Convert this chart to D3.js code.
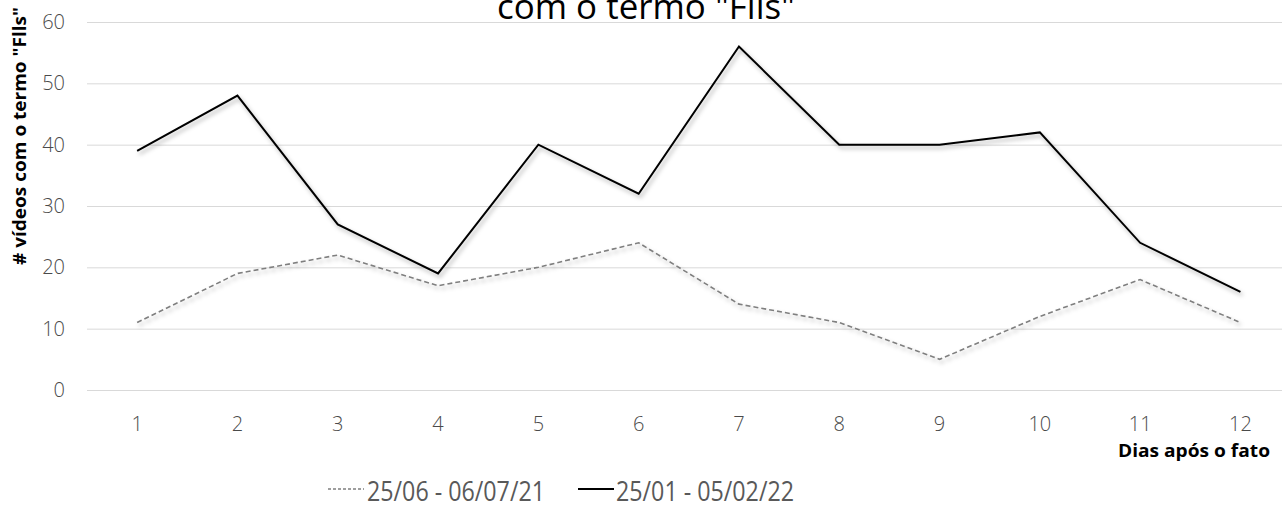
<!DOCTYPE html>
<html>
<head>
<meta charset="utf-8">
<script src="https://cdn.jsdelivr.net/npm/d3@7"></script>
<style>
  html, body { margin: 0; padding: 0; background: #fff; }
  svg { display: block; }
</style>
</head>
<body>
<svg id="chart" width="1282" height="509"></svg>
<script>
// Days after the event
const days = [1, 2, 3, 4, 5, 6, 7, 8, 9, 10, 11, 12];
// Daily counts of videos mentioning the term, per period
const period2021 = [11, 19, 22, 17, 20, 24, 14, 11, 5, 12, 18, 11];
const period2022 = [39, 48, 27, 19, 40, 32, 56, 40, 40, 42, 24, 16];
const seriesNames = ["25/06 - 06/07/21", "25/01 - 05/02/22"];
const yTicks = [0, 10, 20, 30, 40, 50, 60];

const svg = d3.select("#chart");
const font = "'Open Sans', 'Noto Sans', sans-serif";

const margin = { left: 87, top: 22, bottom: 390 };
const x = d3.scaleBand()
  .domain(days)
  .range([margin.left, margin.left + 12 * 100.3]);
const y = d3.scaleLinear().domain([0, 60]).range([margin.bottom, margin.top]);

// Soft drop shadow under the lines
const defs = svg.append("defs");
const f = defs.append("filter").attr("id", "shadow")
  .attr("x", "-5%").attr("y", "-20%").attr("width", "110%").attr("height", "140%");
f.append("feDropShadow")
  .attr("dx", 2).attr("dy", 3).attr("stdDeviation", 2)
  .attr("flood-color", "#000").attr("flood-opacity", 0.3);

// Title (second line of a two-line heading, top line sits above the frame)
svg.append("text")
  .attr("x", 646).attr("y", 19)
  .attr("text-anchor", "middle")
  .attr("font-family", font)
  .attr("font-size", 34)
  .attr("fill", "#000")
  .attr("textLength", 298).attr("lengthAdjust", "spacingAndGlyphs")
  .text("com o termo \"Flls\"");

// Horizontal gridlines + y axis labels
const yAxis = d3.axisLeft(y).tickValues(yTicks)
  .tickSize(-(x.range()[1] - x.range()[0])).tickPadding(22);
const gy = svg.append("g").attr("transform", `translate(${margin.left},0)`).call(yAxis);
gy.select(".domain").remove();
gy.selectAll(".tick line").attr("stroke", "#d9d9d9").attr("stroke-width", 1);
gy.selectAll(".tick text")
  .attr("font-family", font).attr("font-size", 20).attr("font-weight", 300)
  .attr("fill", "#4a4a4a");

// X axis labels
const xAxis = d3.axisBottom(x).tickSize(0).tickPadding(27);
const gx = svg.append("g").attr("transform", `translate(0,${margin.bottom})`).call(xAxis);
gx.select(".domain").remove();
gx.selectAll(".tick text")
  .attr("font-family", font).attr("font-size", 20).attr("font-weight", 300)
  .attr("fill", "#4a4a4a");

// Axis titles
svg.append("text")
  .attr("transform", "translate(26,136) rotate(-90)")
  .attr("text-anchor", "middle")
  .attr("font-family", font).attr("font-weight", "bold").attr("font-size", 17)
  .attr("fill", "#000")
  .attr("textLength", 258).attr("lengthAdjust", "spacingAndGlyphs")
  .text("# vídeos com o termo \"Flls\"");

svg.append("text")
  .attr("x", 1270).attr("y", 457)
  .attr("text-anchor", "end")
  .attr("font-family", font).attr("font-weight", "bold").attr("font-size", 17)
  .attr("fill", "#000")
  .attr("textLength", 152).attr("lengthAdjust", "spacingAndGlyphs")
  .text("Dias após o fato");

// Lines
const line = d3.line()
  .x((d, i) => x(days[i]) + x.bandwidth() / 2)
  .y(d => y(d));

svg.append("path")
  .datum(period2021)
  .attr("d", line)
  .attr("fill", "none")
  .attr("stroke", "#7f7f7f")
  .attr("stroke-width", 1.6)
  .attr("stroke-dasharray", "5,3")
  .attr("filter", "url(#shadow)");

svg.append("path")
  .datum(period2022)
  .attr("d", line)
  .attr("fill", "none")
  .attr("stroke", "#000")
  .attr("stroke-width", 2)
  .attr("stroke-linejoin", "miter")
  .attr("filter", "url(#shadow)");

// Legend
const legend = [
  { name: seriesNames[0], x0: 328, stroke: "#7f7f7f", dash: "3,2", w: 1.3, tx: 367 },
  { name: seriesNames[1], x0: 578, stroke: "#000", dash: null, w: 2, tx: 616 }
];
legend.forEach(l => {
  svg.append("line")
    .attr("x1", l.x0).attr("x2", l.x0 + 36)
    .attr("y1", 489).attr("y2", 489)
    .attr("stroke", l.stroke).attr("stroke-width", l.w)
    .attr("stroke-dasharray", l.dash);
  svg.append("text")
    .attr("x", l.tx).attr("y", 501)
    .attr("font-family", font).attr("font-size", 28).attr("font-weight", 400)
    .attr("fill", "#595959")
    .attr("textLength", 178).attr("lengthAdjust", "spacingAndGlyphs")
    .text(l.name);
});
</script>
</body>
</html>
